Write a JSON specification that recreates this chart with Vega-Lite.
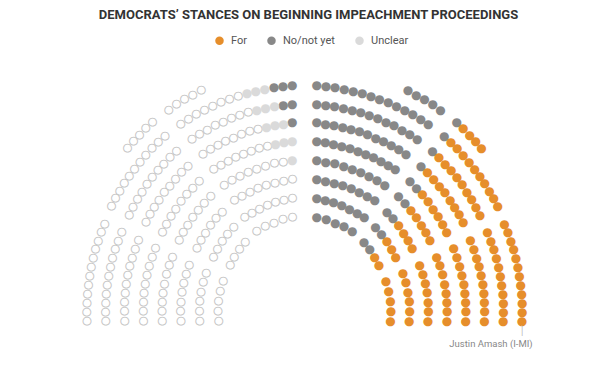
{
"$schema": "https://vega.github.io/schema/vega-lite/v6.json",
"width": 609, "height": 521, "autosize": "none",
"padding": {"left": 0, "top": 60, "right": 5, "bottom": 0},
"background": "white",
"config": {"view": {"stroke": null}},
"title": {"text": "DEMOCRATS’ STANCES ON BEGINNING IMPEACHMENT PROCEEDINGS", "anchor": "middle", "frame": "group", "font": "Roboto", "fontSize": 13, "fontWeight": "bold", "color": "#333333", "offset": 13, "dx": 4},
"data": {"values": [
{"angle":2.96,"radius":236.2,"stance":"No/not yet"},{"angle":5.21,"radius":235.9,"stance":"No/not yet"},{"angle":7.46,"radius":235.6,"stance":"No/not yet"},{"angle":9.71,"radius":235.3,"stance":"No/not yet"},{"angle":11.96,"radius":235.0,"stance":"No/not yet"},{"angle":14.21,"radius":234.7,"stance":"No/not yet"},{"angle":16.45,"radius":234.4,"stance":"No/not yet"},{"angle":18.7,"radius":234.2,"stance":"No/not yet"},{"angle":20.95,"radius":233.9,"stance":"No/not yet"},{"angle":23.2,"radius":233.6,"stance":"No/not yet"},{"angle":25.45,"radius":233.3,"stance":"No/not yet"},{"angle":27.7,"radius":233.0,"stance":"No/not yet"},{"angle":29.95,"radius":232.7,"stance":"No/not yet"},{"angle":32.2,"radius":232.4,"stance":"No/not yet"},
{"angle":3.22,"radius":217.3,"stance":"No/not yet"},{"angle":5.6,"radius":217.0,"stance":"No/not yet"},{"angle":7.98,"radius":216.7,"stance":"No/not yet"},{"angle":10.37,"radius":216.4,"stance":"No/not yet"},{"angle":12.75,"radius":216.1,"stance":"No/not yet"},{"angle":15.13,"radius":215.8,"stance":"No/not yet"},{"angle":17.51,"radius":215.5,"stance":"No/not yet"},{"angle":19.89,"radius":215.2,"stance":"No/not yet"},{"angle":22.28,"radius":214.9,"stance":"No/not yet"},{"angle":24.66,"radius":214.6,"stance":"No/not yet"},{"angle":27.04,"radius":214.3,"stance":"No/not yet"},{"angle":29.42,"radius":214.0,"stance":"No/not yet"},{"angle":31.8,"radius":213.7,"stance":"No/not yet"},
{"angle":3.53,"radius":198.4,"stance":"No/not yet"},{"angle":6.06,"radius":198.1,"stance":"No/not yet"},{"angle":8.6,"radius":197.8,"stance":"No/not yet"},{"angle":11.13,"radius":197.5,"stance":"No/not yet"},{"angle":13.66,"radius":197.2,"stance":"No/not yet"},{"angle":16.2,"radius":196.9,"stance":"No/not yet"},{"angle":18.73,"radius":196.5,"stance":"No/not yet"},{"angle":21.27,"radius":196.2,"stance":"No/not yet"},{"angle":23.8,"radius":195.9,"stance":"No/not yet"},{"angle":26.33,"radius":195.6,"stance":"No/not yet"},{"angle":28.87,"radius":195.3,"stance":"No/not yet"},{"angle":31.4,"radius":195.0,"stance":"No/not yet"},
{"angle":3.9,"radius":179.5,"stance":"No/not yet"},{"angle":6.61,"radius":179.2,"stance":"No/not yet"},{"angle":9.32,"radius":178.9,"stance":"No/not yet"},{"angle":12.03,"radius":178.6,"stance":"No/not yet"},{"angle":14.74,"radius":178.3,"stance":"No/not yet"},{"angle":17.45,"radius":178.0,"stance":"No/not yet"},{"angle":20.16,"radius":177.6,"stance":"No/not yet"},{"angle":22.87,"radius":177.3,"stance":"No/not yet"},{"angle":25.58,"radius":177.0,"stance":"No/not yet"},{"angle":28.29,"radius":176.7,"stance":"No/not yet"},{"angle":31.0,"radius":176.4,"stance":"No/not yet"},
{"angle":4.36,"radius":160.6,"stance":"No/not yet"},{"angle":7.64,"radius":160.3,"stance":"No/not yet"},{"angle":10.92,"radius":159.9,"stance":"No/not yet"},{"angle":14.2,"radius":159.6,"stance":"No/not yet"},{"angle":17.48,"radius":159.2,"stance":"No/not yet"},{"angle":20.76,"radius":158.9,"stance":"No/not yet"},{"angle":24.04,"radius":158.5,"stance":"No/not yet"},{"angle":27.32,"radius":158.2,"stance":"No/not yet"},{"angle":30.6,"radius":157.8,"stance":"No/not yet"},
{"angle":4.94,"radius":141.7,"stance":"No/not yet"},{"angle":8.56,"radius":141.3,"stance":"No/not yet"},{"angle":12.19,"radius":141.0,"stance":"No/not yet"},{"angle":15.81,"radius":140.6,"stance":"No/not yet"},{"angle":19.43,"radius":140.3,"stance":"No/not yet"},{"angle":23.05,"radius":139.9,"stance":"No/not yet"},{"angle":26.68,"radius":139.6,"stance":"No/not yet"},{"angle":30.3,"radius":139.2,"stance":"No/not yet"},
{"angle":5.7,"radius":122.8,"stance":"No/not yet"},{"angle":9.77,"radius":122.2,"stance":"No/not yet"},{"angle":13.83,"radius":121.6,"stance":"No/not yet"},{"angle":17.9,"radius":121.1,"stance":"No/not yet"},{"angle":21.97,"radius":120.5,"stance":"No/not yet"},{"angle":26.03,"radius":119.9,"stance":"No/not yet"},{"angle":30.1,"radius":119.3,"stance":"No/not yet"},
{"angle":6.74,"radius":103.9,"stance":"No/not yet"},{"angle":12.08,"radius":103.3,"stance":"No/not yet"},{"angle":17.42,"radius":102.7,"stance":"No/not yet"},{"angle":22.76,"radius":102.1,"stance":"No/not yet"},{"angle":28.1,"radius":101.5,"stance":"No/not yet"},
{"angle":24.2,"radius":252.2,"stance":"No/not yet"},{"angle":26.35,"radius":251.9,"stance":"No/not yet"},{"angle":28.5,"radius":251.6,"stance":"No/not yet"},{"angle":30.65,"radius":251.3,"stance":"No/not yet"},{"angle":32.8,"radius":251.0,"stance":"No/not yet"},
{"angle":37.5,"radius":250.0,"stance":"No/not yet"},{"angle":39.55,"radius":249.4,"stance":"For"},{"angle":41.6,"radius":248.7,"stance":"For"},{"angle":43.65,"radius":248.1,"stance":"For"},{"angle":45.7,"radius":247.4,"stance":"For"},
{"angle":37.1,"radius":231.7,"stance":"No/not yet"},{"angle":39.33,"radius":231.0,"stance":"For"},{"angle":41.56,"radius":230.3,"stance":"For"},{"angle":43.79,"radius":229.5,"stance":"For"},{"angle":46.02,"radius":228.8,"stance":"For"},{"angle":48.25,"radius":228.1,"stance":"For"},{"angle":50.48,"radius":227.4,"stance":"For"},{"angle":52.71,"radius":226.7,"stance":"For"},{"angle":54.94,"radius":225.9,"stance":"For"},{"angle":57.17,"radius":225.2,"stance":"For"},{"angle":59.4,"radius":224.5,"stance":"For"},
{"angle":37.1,"radius":212.3,"stance":"No/not yet"},{"angle":39.52,"radius":211.5,"stance":"For"},{"angle":41.94,"radius":210.7,"stance":"For"},{"angle":44.37,"radius":209.9,"stance":"For"},{"angle":46.79,"radius":209.1,"stance":"For"},{"angle":49.21,"radius":208.2,"stance":"For"},{"angle":51.63,"radius":207.4,"stance":"For"},{"angle":54.06,"radius":206.6,"stance":"For"},{"angle":56.48,"radius":205.8,"stance":"For"},{"angle":58.9,"radius":205.0,"stance":"For"},
{"angle":37.1,"radius":193.3,"stance":"No/not yet"},{"angle":39.74,"radius":192.5,"stance":"For"},{"angle":42.38,"radius":191.7,"stance":"For"},{"angle":45.01,"radius":190.9,"stance":"For"},{"angle":47.65,"radius":190.1,"stance":"For"},{"angle":50.29,"radius":189.3,"stance":"For"},{"angle":52.93,"radius":188.4,"stance":"For"},{"angle":55.56,"radius":187.6,"stance":"For"},{"angle":58.2,"radius":186.8,"stance":"For"},
{"angle":37.1,"radius":174.7,"stance":"No/not yet"},{"angle":40.09,"radius":173.7,"stance":"No/not yet"},{"angle":43.07,"radius":172.7,"stance":"For"},{"angle":46.06,"radius":171.7,"stance":"For"},{"angle":49.04,"radius":170.6,"stance":"For"},{"angle":52.03,"radius":169.6,"stance":"For"},{"angle":55.01,"radius":168.6,"stance":"For"},{"angle":58.0,"radius":167.6,"stance":"For"},
{"angle":37.1,"radius":155.7,"stance":"No/not yet"},{"angle":40.48,"radius":154.6,"stance":"No/not yet"},{"angle":43.87,"radius":153.5,"stance":"For"},{"angle":47.25,"radius":152.4,"stance":"For"},{"angle":50.63,"radius":151.2,"stance":"For"},{"angle":54.02,"radius":150.1,"stance":"For"},{"angle":57.4,"radius":149.0,"stance":"For"},
{"angle":37.1,"radius":136.6,"stance":"No/not yet"},{"angle":40.88,"radius":135.3,"stance":"No/not yet"},{"angle":44.66,"radius":134.0,"stance":"For"},{"angle":48.44,"radius":132.6,"stance":"For"},{"angle":52.22,"radius":131.3,"stance":"For"},{"angle":56.0,"radius":130.0,"stance":"For"},
{"angle":37.1,"radius":117.7,"stance":"No/not yet"},{"angle":41.6,"radius":116.1,"stance":"No/not yet"},{"angle":46.1,"radius":114.5,"stance":"For"},{"angle":50.6,"radius":112.8,"stance":"For"},{"angle":55.1,"radius":111.2,"stance":"For"},
{"angle":37.1,"radius":98.5,"stance":"No/not yet"},{"angle":42.43,"radius":96.7,"stance":"No/not yet"},{"angle":47.77,"radius":95.0,"stance":"For"},{"angle":53.1,"radius":93.2,"stance":"For"},
{"angle":90,"radius":86,"stance":"For"},{"angle":83.55,"radius":87.1,"stance":"For"},{"angle":77.1,"radius":88.3,"stance":"For"},{"angle":70.65,"radius":89.4,"stance":"For"},{"angle":64.2,"radius":90.5,"stance":"For"},
{"angle":90,"radius":104.8,"stance":"For"},{"angle":84.84,"radius":105.7,"stance":"For"},{"angle":79.68,"radius":106.6,"stance":"For"},{"angle":74.52,"radius":107.5,"stance":"For"},{"angle":69.36,"radius":108.4,"stance":"For"},{"angle":64.2,"radius":109.3,"stance":"For"},
{"angle":90,"radius":123.6,"stance":"For"},{"angle":85.7,"radius":124.4,"stance":"For"},{"angle":81.4,"radius":125.1,"stance":"For"},{"angle":77.1,"radius":125.9,"stance":"For"},{"angle":72.8,"radius":126.6,"stance":"For"},{"angle":68.5,"radius":127.4,"stance":"For"},{"angle":64.2,"radius":128.1,"stance":"For"},
{"angle":90,"radius":142.4,"stance":"For"},{"angle":86.31,"radius":143.0,"stance":"For"},{"angle":82.63,"radius":143.7,"stance":"For"},{"angle":78.94,"radius":144.3,"stance":"For"},{"angle":75.26,"radius":145.0,"stance":"For"},{"angle":71.57,"radius":145.6,"stance":"For"},{"angle":67.89,"radius":146.3,"stance":"For"},{"angle":64.2,"radius":146.9,"stance":"For"},
{"angle":90,"radius":161.2,"stance":"For"},{"angle":86.78,"radius":161.8,"stance":"For"},{"angle":83.55,"radius":162.3,"stance":"For"},{"angle":80.33,"radius":162.9,"stance":"For"},{"angle":77.1,"radius":163.5,"stance":"For"},{"angle":73.88,"radius":164.0,"stance":"For"},{"angle":70.65,"radius":164.6,"stance":"For"},{"angle":67.43,"radius":165.1,"stance":"For"},{"angle":64.2,"radius":165.7,"stance":"For"},
{"angle":90,"radius":180,"stance":"For"},{"angle":87.13,"radius":180.5,"stance":"For"},{"angle":84.27,"radius":181,"stance":"For"},{"angle":81.4,"radius":181.5,"stance":"For"},{"angle":78.53,"radius":182,"stance":"For"},{"angle":75.67,"radius":182.5,"stance":"For"},{"angle":72.8,"radius":183,"stance":"For"},{"angle":69.93,"radius":183.5,"stance":"For"},{"angle":67.07,"radius":184,"stance":"For"},{"angle":64.2,"radius":184.5,"stance":"For"},
{"angle":90,"radius":198.8,"stance":"For"},{"angle":87.42,"radius":199.3,"stance":"For"},{"angle":84.84,"radius":199.7,"stance":"For"},{"angle":82.26,"radius":200.2,"stance":"For"},{"angle":79.68,"radius":200.6,"stance":"For"},{"angle":77.1,"radius":201.1,"stance":"For"},{"angle":74.52,"radius":201.5,"stance":"For"},{"angle":71.94,"radius":202,"stance":"For"},{"angle":69.36,"radius":202.4,"stance":"For"},{"angle":66.78,"radius":202.9,"stance":"For"},{"angle":64.2,"radius":203.3,"stance":"For"},
{"angle":90,"radius":217.6,"stance":"For","member":"Justin Amash (I-MI)"},{"angle":87.65,"radius":218,"stance":"For"},{"angle":85.31,"radius":218.4,"stance":"For"},{"angle":82.96,"radius":218.8,"stance":"For"},{"angle":80.62,"radius":219.2,"stance":"For"},{"angle":78.27,"radius":219.6,"stance":"For"},{"angle":75.93,"radius":220.1,"stance":"For"},{"angle":73.58,"radius":220.5,"stance":"For"},{"angle":71.24,"radius":220.9,"stance":"For"},{"angle":68.89,"radius":221.3,"stance":"For"},{"angle":66.55,"radius":221.7,"stance":"For"},{"angle":64.2,"radius":222.1,"stance":"For"},

{"angle":-2.96,"radius":236.2,"stance":"No/not yet"},{"angle":-5.21,"radius":235.9,"stance":"No/not yet"},{"angle":-7.46,"radius":235.6,"stance":"No/not yet"},{"angle":-9.71,"radius":235.3,"stance":"Unclear"},{"angle":-11.96,"radius":235.0,"stance":"Unclear"},{"angle":-14.21,"radius":234.7,"stance":"Unclear"},{"angle":-16.45,"radius":234.4,"stance":"Republican"},{"angle":-18.7,"radius":234.2,"stance":"Republican"},{"angle":-20.95,"radius":233.9,"stance":"Republican"},{"angle":-23.2,"radius":233.6,"stance":"Republican"},{"angle":-25.45,"radius":233.3,"stance":"Republican"},{"angle":-27.7,"radius":233.0,"stance":"Republican"},{"angle":-29.95,"radius":232.7,"stance":"Republican"},{"angle":-32.2,"radius":232.4,"stance":"Republican"},
{"angle":-3.22,"radius":217.3,"stance":"No/not yet"},{"angle":-5.6,"radius":217.0,"stance":"No/not yet"},{"angle":-7.98,"radius":216.7,"stance":"Unclear"},{"angle":-10.37,"radius":216.4,"stance":"Unclear"},{"angle":-12.75,"radius":216.1,"stance":"Unclear"},{"angle":-15.13,"radius":215.8,"stance":"Republican"},{"angle":-17.51,"radius":215.5,"stance":"Republican"},{"angle":-19.89,"radius":215.2,"stance":"Republican"},{"angle":-22.28,"radius":214.9,"stance":"Republican"},{"angle":-24.66,"radius":214.6,"stance":"Republican"},{"angle":-27.04,"radius":214.3,"stance":"Republican"},{"angle":-29.42,"radius":214.0,"stance":"Republican"},{"angle":-31.8,"radius":213.7,"stance":"Republican"},
{"angle":-3.53,"radius":198.4,"stance":"No/not yet"},{"angle":-6.06,"radius":198.1,"stance":"Unclear"},{"angle":-8.6,"radius":197.8,"stance":"Unclear"},{"angle":-11.13,"radius":197.5,"stance":"Unclear"},{"angle":-13.66,"radius":197.2,"stance":"Republican"},{"angle":-16.2,"radius":196.9,"stance":"Republican"},{"angle":-18.73,"radius":196.5,"stance":"Republican"},{"angle":-21.27,"radius":196.2,"stance":"Republican"},{"angle":-23.8,"radius":195.9,"stance":"Republican"},{"angle":-26.33,"radius":195.6,"stance":"Republican"},{"angle":-28.87,"radius":195.3,"stance":"Republican"},{"angle":-31.4,"radius":195.0,"stance":"Republican"},
{"angle":-3.9,"radius":179.5,"stance":"Unclear"},{"angle":-6.61,"radius":179.2,"stance":"Unclear"},{"angle":-9.32,"radius":178.9,"stance":"Unclear"},{"angle":-12.03,"radius":178.6,"stance":"Republican"},{"angle":-14.74,"radius":178.3,"stance":"Republican"},{"angle":-17.45,"radius":178.0,"stance":"Republican"},{"angle":-20.16,"radius":177.6,"stance":"Republican"},{"angle":-22.87,"radius":177.3,"stance":"Republican"},{"angle":-25.58,"radius":177.0,"stance":"Republican"},{"angle":-28.29,"radius":176.7,"stance":"Republican"},{"angle":-31.0,"radius":176.4,"stance":"Republican"},
{"angle":-4.36,"radius":160.6,"stance":"Unclear"},{"angle":-7.64,"radius":160.3,"stance":"Republican"},{"angle":-10.92,"radius":159.9,"stance":"Republican"},{"angle":-14.2,"radius":159.6,"stance":"Republican"},{"angle":-17.48,"radius":159.2,"stance":"Republican"},{"angle":-20.76,"radius":158.9,"stance":"Republican"},{"angle":-24.04,"radius":158.5,"stance":"Republican"},{"angle":-27.32,"radius":158.2,"stance":"Republican"},{"angle":-30.6,"radius":157.8,"stance":"Republican"},
{"angle":-4.94,"radius":141.7,"stance":"Republican"},{"angle":-8.56,"radius":141.3,"stance":"Republican"},{"angle":-12.19,"radius":141.0,"stance":"Republican"},{"angle":-15.81,"radius":140.6,"stance":"Republican"},{"angle":-19.43,"radius":140.3,"stance":"Republican"},{"angle":-23.05,"radius":139.9,"stance":"Republican"},{"angle":-26.68,"radius":139.6,"stance":"Republican"},{"angle":-30.3,"radius":139.2,"stance":"Republican"},
{"angle":-5.7,"radius":122.8,"stance":"Republican"},{"angle":-9.77,"radius":122.2,"stance":"Republican"},{"angle":-13.83,"radius":121.6,"stance":"Republican"},{"angle":-17.9,"radius":121.1,"stance":"Republican"},{"angle":-21.97,"radius":120.5,"stance":"Republican"},{"angle":-26.03,"radius":119.9,"stance":"Republican"},{"angle":-30.1,"radius":119.3,"stance":"Republican"},
{"angle":-6.74,"radius":103.9,"stance":"Republican"},{"angle":-12.08,"radius":103.3,"stance":"Republican"},{"angle":-17.42,"radius":102.7,"stance":"Republican"},{"angle":-22.76,"radius":102.1,"stance":"Republican"},{"angle":-28.1,"radius":101.5,"stance":"Republican"},
{"angle":-24.2,"radius":252.2,"stance":"Republican"},{"angle":-26.35,"radius":251.9,"stance":"Republican"},{"angle":-28.5,"radius":251.6,"stance":"Republican"},{"angle":-30.65,"radius":251.3,"stance":"Republican"},{"angle":-32.8,"radius":251.0,"stance":"Republican"},
{"angle":-37.5,"radius":250.0,"stance":"Republican"},{"angle":-39.55,"radius":249.4,"stance":"Republican"},{"angle":-41.6,"radius":248.7,"stance":"Republican"},{"angle":-43.65,"radius":248.1,"stance":"Republican"},{"angle":-45.7,"radius":247.4,"stance":"Republican"},
{"angle":-37.1,"radius":231.7,"stance":"Republican"},{"angle":-39.33,"radius":231.0,"stance":"Republican"},{"angle":-41.56,"radius":230.3,"stance":"Republican"},{"angle":-43.79,"radius":229.5,"stance":"Republican"},{"angle":-46.02,"radius":228.8,"stance":"Republican"},{"angle":-48.25,"radius":228.1,"stance":"Republican"},{"angle":-50.48,"radius":227.4,"stance":"Republican"},{"angle":-52.71,"radius":226.7,"stance":"Republican"},{"angle":-54.94,"radius":225.9,"stance":"Republican"},{"angle":-57.17,"radius":225.2,"stance":"Republican"},{"angle":-59.4,"radius":224.5,"stance":"Republican"},
{"angle":-37.1,"radius":212.3,"stance":"Republican"},{"angle":-39.52,"radius":211.5,"stance":"Republican"},{"angle":-41.94,"radius":210.7,"stance":"Republican"},{"angle":-44.37,"radius":209.9,"stance":"Republican"},{"angle":-46.79,"radius":209.1,"stance":"Republican"},{"angle":-49.21,"radius":208.2,"stance":"Republican"},{"angle":-51.63,"radius":207.4,"stance":"Republican"},{"angle":-54.06,"radius":206.6,"stance":"Republican"},{"angle":-56.48,"radius":205.8,"stance":"Republican"},{"angle":-58.9,"radius":205.0,"stance":"Republican"},
{"angle":-37.1,"radius":193.3,"stance":"Republican"},{"angle":-39.74,"radius":192.5,"stance":"Republican"},{"angle":-42.38,"radius":191.7,"stance":"Republican"},{"angle":-45.01,"radius":190.9,"stance":"Republican"},{"angle":-47.65,"radius":190.1,"stance":"Republican"},{"angle":-50.29,"radius":189.3,"stance":"Republican"},{"angle":-52.93,"radius":188.4,"stance":"Republican"},{"angle":-55.56,"radius":187.6,"stance":"Republican"},{"angle":-58.2,"radius":186.8,"stance":"Republican"},
{"angle":-37.1,"radius":174.7,"stance":"Republican"},{"angle":-40.09,"radius":173.7,"stance":"Republican"},{"angle":-43.07,"radius":172.7,"stance":"Republican"},{"angle":-46.06,"radius":171.7,"stance":"Republican"},{"angle":-49.04,"radius":170.6,"stance":"Republican"},{"angle":-52.03,"radius":169.6,"stance":"Republican"},{"angle":-55.01,"radius":168.6,"stance":"Republican"},{"angle":-58.0,"radius":167.6,"stance":"Republican"},
{"angle":-37.1,"radius":155.7,"stance":"Republican"},{"angle":-40.48,"radius":154.6,"stance":"Republican"},{"angle":-43.87,"radius":153.5,"stance":"Republican"},{"angle":-47.25,"radius":152.4,"stance":"Republican"},{"angle":-50.63,"radius":151.2,"stance":"Republican"},{"angle":-54.02,"radius":150.1,"stance":"Republican"},{"angle":-57.4,"radius":149.0,"stance":"Republican"},
{"angle":-37.1,"radius":136.6,"stance":"Republican"},{"angle":-40.88,"radius":135.3,"stance":"Republican"},{"angle":-44.66,"radius":134.0,"stance":"Republican"},{"angle":-48.44,"radius":132.6,"stance":"Republican"},{"angle":-52.22,"radius":131.3,"stance":"Republican"},{"angle":-56.0,"radius":130.0,"stance":"Republican"},
{"angle":-37.1,"radius":117.7,"stance":"Republican"},{"angle":-41.6,"radius":116.1,"stance":"Republican"},{"angle":-46.1,"radius":114.5,"stance":"Republican"},{"angle":-50.6,"radius":112.8,"stance":"Republican"},{"angle":-55.1,"radius":111.2,"stance":"Republican"},
{"angle":-37.1,"radius":98.5,"stance":"Republican"},{"angle":-42.43,"radius":96.7,"stance":"Republican"},{"angle":-47.77,"radius":95.0,"stance":"Republican"},{"angle":-53.1,"radius":93.2,"stance":"Republican"},
{"angle":-90,"radius":86,"stance":"Republican"},{"angle":-83.55,"radius":87.1,"stance":"Republican"},{"angle":-77.1,"radius":88.3,"stance":"Republican"},{"angle":-70.65,"radius":89.4,"stance":"Republican"},{"angle":-64.2,"radius":90.5,"stance":"Republican"},
{"angle":-90,"radius":104.8,"stance":"Republican"},{"angle":-84.84,"radius":105.7,"stance":"Republican"},{"angle":-79.68,"radius":106.6,"stance":"Republican"},{"angle":-74.52,"radius":107.5,"stance":"Republican"},{"angle":-69.36,"radius":108.4,"stance":"Republican"},{"angle":-64.2,"radius":109.3,"stance":"Republican"},
{"angle":-90,"radius":123.6,"stance":"Republican"},{"angle":-85.7,"radius":124.4,"stance":"Republican"},{"angle":-81.4,"radius":125.1,"stance":"Republican"},{"angle":-77.1,"radius":125.9,"stance":"Republican"},{"angle":-72.8,"radius":126.6,"stance":"Republican"},{"angle":-68.5,"radius":127.4,"stance":"Republican"},{"angle":-64.2,"radius":128.1,"stance":"Republican"},
{"angle":-90,"radius":142.4,"stance":"Republican"},{"angle":-86.31,"radius":143.0,"stance":"Republican"},{"angle":-82.63,"radius":143.7,"stance":"Republican"},{"angle":-78.94,"radius":144.3,"stance":"Republican"},{"angle":-75.26,"radius":145.0,"stance":"Republican"},{"angle":-71.57,"radius":145.6,"stance":"Republican"},{"angle":-67.89,"radius":146.3,"stance":"Republican"},{"angle":-64.2,"radius":146.9,"stance":"Republican"},
{"angle":-90,"radius":161.2,"stance":"Republican"},{"angle":-86.78,"radius":161.8,"stance":"Republican"},{"angle":-83.55,"radius":162.3,"stance":"Republican"},{"angle":-80.33,"radius":162.9,"stance":"Republican"},{"angle":-77.1,"radius":163.5,"stance":"Republican"},{"angle":-73.88,"radius":164.0,"stance":"Republican"},{"angle":-70.65,"radius":164.6,"stance":"Republican"},{"angle":-67.43,"radius":165.1,"stance":"Republican"},{"angle":-64.2,"radius":165.7,"stance":"Republican"},
{"angle":-90,"radius":180,"stance":"Republican"},{"angle":-87.13,"radius":180.5,"stance":"Republican"},{"angle":-84.27,"radius":181,"stance":"Republican"},{"angle":-81.4,"radius":181.5,"stance":"Republican"},{"angle":-78.53,"radius":182,"stance":"Republican"},{"angle":-75.67,"radius":182.5,"stance":"Republican"},{"angle":-72.8,"radius":183,"stance":"Republican"},{"angle":-69.93,"radius":183.5,"stance":"Republican"},{"angle":-67.07,"radius":184,"stance":"Republican"},{"angle":-64.2,"radius":184.5,"stance":"Republican"},
{"angle":-90,"radius":198.8,"stance":"Republican"},{"angle":-87.42,"radius":199.3,"stance":"Republican"},{"angle":-84.84,"radius":199.7,"stance":"Republican"},{"angle":-82.26,"radius":200.2,"stance":"Republican"},{"angle":-79.68,"radius":200.6,"stance":"Republican"},{"angle":-77.1,"radius":201.1,"stance":"Republican"},{"angle":-74.52,"radius":201.5,"stance":"Republican"},{"angle":-71.94,"radius":202,"stance":"Republican"},{"angle":-69.36,"radius":202.4,"stance":"Republican"},{"angle":-66.78,"radius":202.9,"stance":"Republican"},{"angle":-64.2,"radius":203.3,"stance":"Republican"},
{"angle":-90,"radius":217.6,"stance":"Republican"},{"angle":-87.65,"radius":218,"stance":"Republican"},{"angle":-85.31,"radius":218.4,"stance":"Republican"},{"angle":-82.96,"radius":218.8,"stance":"Republican"},{"angle":-80.62,"radius":219.2,"stance":"Republican"},{"angle":-78.27,"radius":219.6,"stance":"Republican"},{"angle":-75.93,"radius":220.1,"stance":"Republican"},{"angle":-73.58,"radius":220.5,"stance":"Republican"},{"angle":-71.24,"radius":220.9,"stance":"Republican"},{"angle":-68.89,"radius":221.3,"stance":"Republican"},{"angle":-66.55,"radius":221.7,"stance":"Republican"},{"angle":-64.2,"radius":222.1,"stance":"Republican"}
]},
"encoding": {
  "theta": {"field": "angle", "type": "quantitative", "stack": null, "scale": {"domain": [-180, 180], "range": [-3.14159265, 3.14159265]}},
  "radius": {"field": "radius", "type": "quantitative", "scale": {"type": "linear", "domain": [0, 300], "range": [0, 300], "zero": true}}
},
"layer": [
  {"transform": [{"filter": "datum.stance === 'Republican'"}],
   "mark": {"type": "text", "font": "DejaVu Sans", "fontSize": 10.5, "align": "center", "baseline": "middle", "fill": "white", "stroke": "#c4c4c4", "strokeWidth": 0.9},
   "encoding": {"text": {"value": "●"}}},
  {"transform": [{"filter": "datum.stance !== 'Republican'"}],
   "mark": {"type": "text", "font": "DejaVu Sans", "fontSize": 12, "align": "center", "baseline": "middle"},
   "encoding": {"text": {"value": "●"},
     "color": {"field": "stance", "type": "nominal",
       "scale": {"domain": ["For", "No/not yet", "Unclear"], "range": ["#E68E2B", "#888888", "#DADADA"]},
       "legend": {"orient": "none", "legendX": 214, "legendY": -25, "direction": "horizontal", "title": null, "symbolType": "circle", "symbolSize": 72, "symbolStrokeWidth": 0, "labelFontSize": 11, "labelFont": "Roboto", "labelColor": "#555555", "columnPadding": 19, "labelOffset": 6}}}},
  {"transform": [{"filter": "isValid(datum.member)"}],
   "mark": {"type": "text", "font": "DejaVu Sans", "fontSize": 9, "align": "center", "baseline": "middle", "dy": 10, "fill": "#bbbbbb"},
   "encoding": {"text": {"value": "│"}}},
  {"transform": [{"filter": "isValid(datum.member)"}],
   "mark": {"type": "text", "font": "Roboto", "fontSize": 9.5, "align": "right", "baseline": "middle", "dy": 23, "dx": 10.5, "fill": "#888888"},
   "encoding": {"text": {"field": "member", "type": "nominal"}}}
]
}
